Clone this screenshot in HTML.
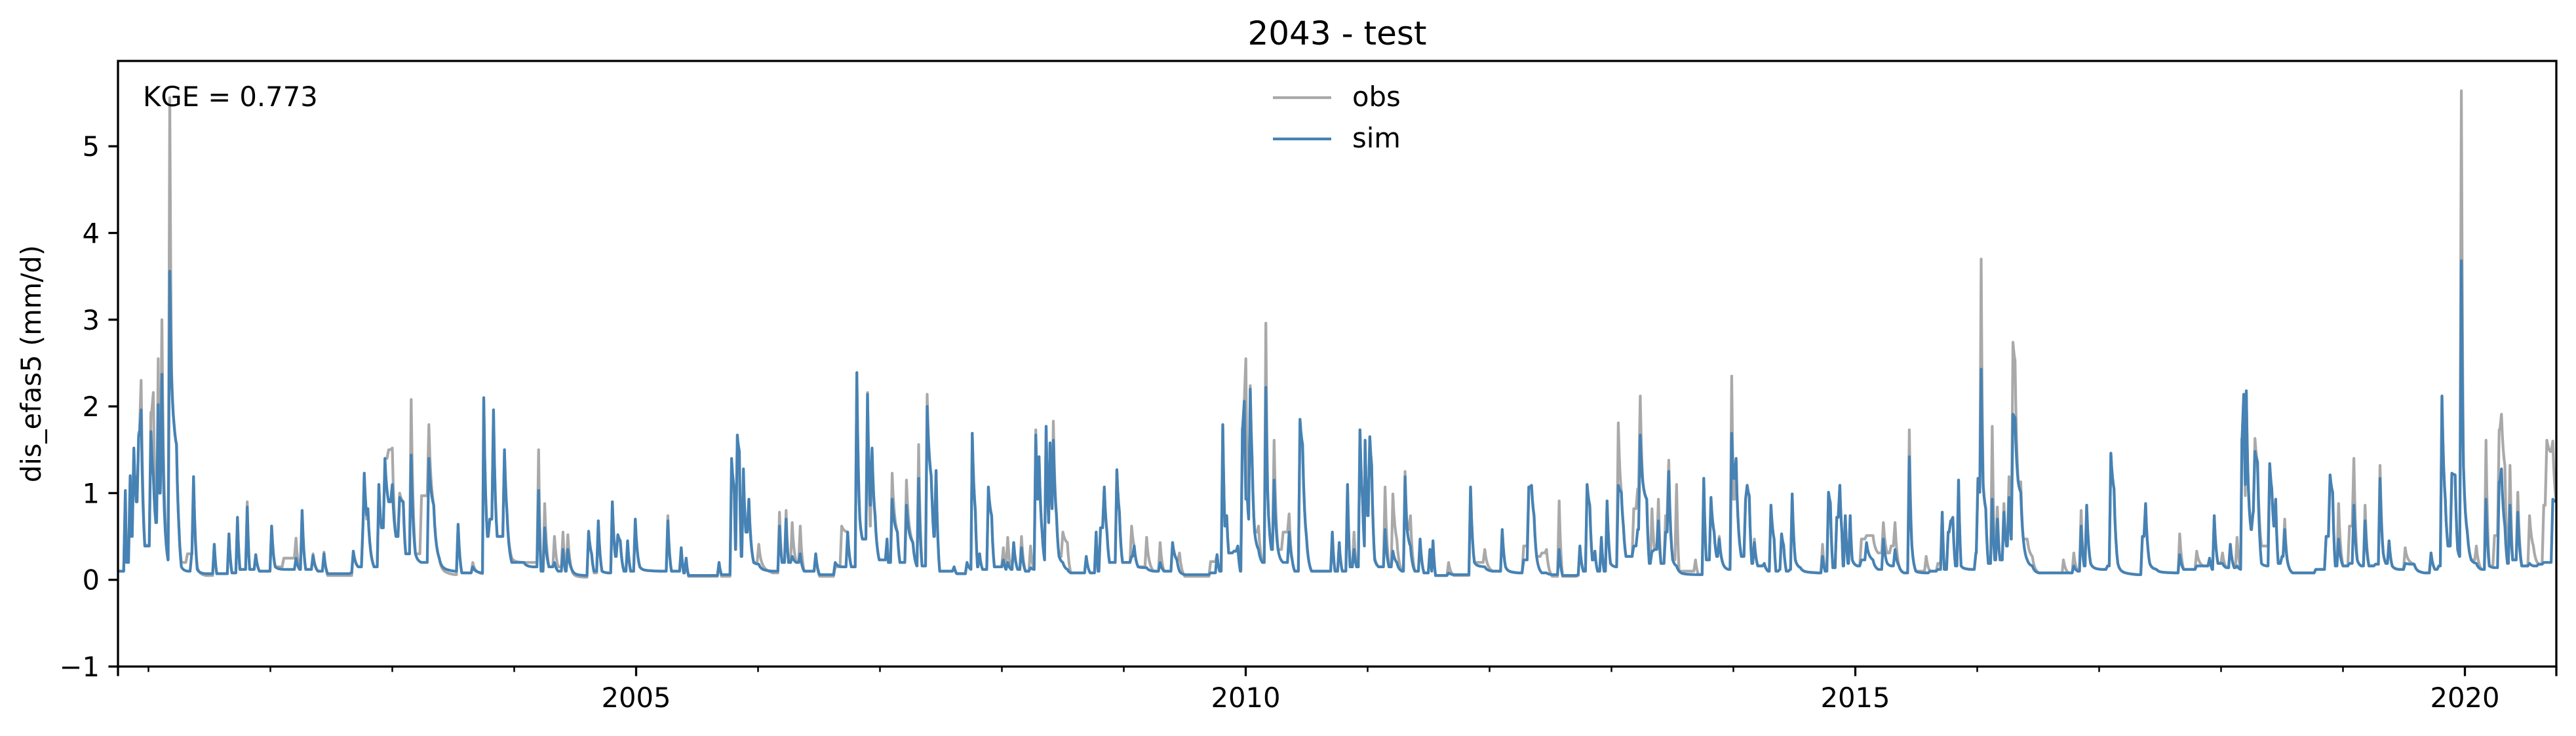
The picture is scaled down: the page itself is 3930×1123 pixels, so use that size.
<!DOCTYPE html>
<html><head><meta charset="utf-8"><style>
html,body{margin:0;padding:0;background:#fff;}
svg text{font-family:"DejaVu Sans","Liberation Sans",sans-serif;fill:#000;}
</style></head><body>
<svg id="chart" width="3930" height="1118" viewBox="0 0 3930 1118" xmlns="http://www.w3.org/2000/svg">
<rect width="3930" height="1118" fill="#fff"/>
<defs><clipPath id="plotclip"><rect x="180" y="93" width="3720" height="924"/></clipPath></defs>
<text x="2040" y="68" font-size="50" text-anchor="middle">2043 - test</text>
<text x="0" y="0" font-size="41.7" text-anchor="middle" transform="translate(62,555) rotate(-90)">dis_efas5 (mm/d)</text>
<g id="plot" clip-path="url(#plotclip)"></g>
<g id="axes"></g>
<text x="218" y="162" font-size="41.7">KGE = 0.773</text>
<g>
<line x1="1942" y1="149" x2="2031" y2="149" stroke="#a9a9a9" stroke-width="4.2"/>
<text x="2063" y="162" font-size="41.7">obs</text>
<line x1="1942" y1="212" x2="2031" y2="212" stroke="#4682b4" stroke-width="4.2"/>
<text x="2063" y="225" font-size="41.7">sim</text>
</g>
</svg>
<script>
const dates = [
2000.75,2000.77,2000.81,2000.82,2000.85,2000.86,2000.88,2000.90,2000.92,2000.94,
2000.97,2001.02,2001.04,2001.06,2001.08,2001.09,2001.11,2001.13,2001.16,2001.175,
2001.19,2001.21,2001.23,2001.25,2001.27,2001.32,2001.355,2001.37,2001.40,2001.47,
2001.54,2001.56,2001.66,2001.685,2001.73,2001.75,2001.81,2001.83,2001.88,2001.91,
2002.01,2002.04,2002.11,2002.21,2002.24,2002.26,2002.29,2002.35,2002.39,2002.44,
2002.47,2002.66,2002.68,2002.72,2002.76,2002.77,2002.79,2002.80,2002.85,2002.89,
2002.91,2002.94,2002.97,2003.00,2003.03,2003.06,2003.09,2003.11,2003.155,2003.19,
2003.24,2003.30,2003.34,2003.385,2003.51,2003.54,2003.57,2003.66,2003.74,2003.75,
2003.78,2003.80,2003.83,2003.86,2003.92,2003.94,2003.98,
2004.08,2004.15,2004.20,2004.22,2004.25,2004.285,2004.33,2004.36,2004.40,2004.42,
2004.44,2004.48,2004.58,2004.61,2004.635,2004.655,2004.69,2004.72,2004.77,2004.805,
2004.83,2004.85,2004.87,2004.90,2004.93,2004.955,2004.993,2005.03,2005.19,2005.26,
2005.29,2005.37,2005.39,2005.41,2005.43,2005.68,2005.70,2005.77,2005.783,2005.805,
2005.815,2005.83,2005.847,2005.862,2005.88,2005.90,2005.925,2005.964,2006.006,2006.12,
2006.176,2006.197,2006.23,2006.25,2006.28,2006.314,2006.346,2006.378,2006.473,2006.505,
2006.633,2006.686,2006.735,2006.765,2006.81,2006.835,2006.856,2006.898,2006.92,2006.935,
2006.96,2006.994,2007.058,2007.069,2007.10,2007.143,2007.164,2007.217,2007.27,2007.302,
2007.317,2007.345,2007.387,
2007.42,2007.428,2007.442,2007.46,2007.49,2007.608,2007.63,2007.714,2007.746,2007.757,
2007.782,2007.80,2007.817,2007.842,2007.889,2007.916,2007.938,2008.012,2008.033,2008.048,
2008.076,2008.097,2008.129,2008.161,2008.193,2008.235,2008.263,2008.278,2008.293,2008.305,
2008.33,2008.35,2008.363,2008.384,2008.395,2008.412,2008.422,2008.448,2008.469,2008.5,
2008.537,2008.565,2008.692,2008.724,2008.773,2008.788,2008.809,2008.84,2008.862,2008.883,
2008.943,2008.964,2008.99,2009.064,2009.085,2009.117,2009.187,2009.244,2009.298,2009.33,
2009.4,2009.436,2009.457,2009.5,2009.712,2009.765,2009.786,2009.812,2009.829,2009.844,
2009.86,2009.903,2009.935,2009.956,2009.973,2009.988,2010.001,2010.014,2010.024,2010.037,
2010.052,2010.073,2010.105,2010.137,2010.165,2010.18,2010.211,2010.233,2010.265,2010.307,
2010.356,2010.381,2010.402,2010.445,2010.466,2010.498,2010.54,2010.71,2010.732,
2010.767,2010.792,2010.835,2010.856,2010.888,2010.909,2010.937,2010.958,2010.973,2010.979,
2010.999,2011.018,2011.033,2011.058,2011.09,2011.143,2011.175,2011.207,2011.239,2011.281,
2011.307,2011.324,2011.351,2011.387,2011.43,2011.462,2011.511,2011.526,2011.536,2011.557,
2011.664,2011.706,2011.812,2011.844,2011.876,2011.961,2012.025,2012.104,2012.131,2012.237,
2012.28,2012.322,2012.344,2012.365,2012.386,2012.429,2012.467,2012.514,2012.571,2012.599,
2012.726,2012.741,2012.769,2012.8,2012.822,2012.843,2012.864,2012.886,2012.917,2012.939,
2012.964,2012.992,2013.034,2013.056,2013.081,2013.098,2013.119,2013.183,2013.215,2013.236,
2013.257,2013.289,2013.31,2013.332,2013.353,2013.385,2013.406,2013.444,2013.47,2013.502,
2013.534,2013.555,2013.689,2013.714,2013.757,2013.778,2013.816,2013.842,2013.863,2013.884,
2013.916,2013.959,2013.986,2014.001,2014.022,2014.065,
2014.1,2014.113,2014.13,2014.151,2014.172,2014.2,2014.253,2014.285,2014.308,2014.334,
2014.349,2014.38,2014.395,2014.412,2014.434,2014.465,2014.482,2014.508,2014.55,2014.699,
2014.731,2014.752,2014.78,2014.795,2014.816,2014.848,2014.873,2014.89,2014.9,2014.918,
2014.939,2014.958,2014.975,2015.018,2015.05,2015.092,2015.145,2015.188,2015.23,2015.262,
2015.294,2015.326,2015.358,2015.4,2015.443,2015.464,2015.496,2015.581,2015.613,2015.677,
2015.713,2015.73,2015.762,2015.783,2015.8,2015.821,2015.847,2015.868,2015.953,2015.989,
2016.006,2016.021,2016.032,2016.049,2016.07,2016.091,2016.123,2016.144,2016.165,2016.187,
2016.219,2016.24,2016.261,2016.278,2016.293,2016.31,2016.336,2016.357,2016.378,2016.41,
2016.452,2016.505,2016.697,2016.707,2016.75,2016.792,2016.824,2016.852,2016.877,2016.898,
2016.93,2017.016,2017.069,2017.096,2017.122,2017.153,2017.313,2017.355,2017.381,2017.415,
2017.47,2017.63,2017.661,2017.693,2017.8,2017.853,2017.906,2017.927,2017.944,2017.974,
2018.012,2018.044,2018.076,2018.108,2018.131,2018.161,2018.171,2018.186,2018.199,2018.207,
2018.224,2018.246,2018.263,2018.278,2018.299,2018.331,2018.373,2018.399,2018.416,2018.433,
2018.448,2018.469,2018.5,2018.522,2018.543,2018.586,2018.777,2018.862,2018.894,2018.915,
2018.937,2018.964,2019.0,2019.053,2019.089,2019.117,2019.149,2019.181,2019.213,2019.266,
2019.304,2019.33,2019.351,2019.378,2019.404,2019.457,2019.51,2019.584,2019.669,2019.722,
2019.754,2019.786,2019.812,2019.839,2019.861,2019.893,2019.92,2019.941,2019.956,2019.971,
2019.988,2020.02,2020.052,2020.094,2020.137,2020.173,2020.2,2020.243,2020.281,2020.3,
2020.328,2020.349,2020.37,2020.392,2020.434,2020.466,2020.53,2020.562,2020.604,2020.647,
2020.672,2020.7,2020.721,2020.749
];
const obsValues = [
.1,.1,1.0,.3,1.2,.5,1.5,.9,1.7,2.3,
.4,1.93,2.16,.66,2.55,1.0,3.0,1.0,.23,5.56,
2.4,1.79,1.56,.6,.2,.3,.3,1.19,.15,.05,
.41,.07,.53,.08,.72,.12,.9,.12,.29,.1,
.62,.15,.25,.48,.12,.8,.12,.3,.1,.32,
.05,.05,.33,.15,.66,1.23,.7,.82,.15,1.1,
.6,1.4,1.5,1.52,.5,1.0,.9,.3,2.08,.3,
.97,1.79,.86,.25,.06,.64,.08,.2,.07,2.1,
.5,.7,1.96,.5,1.5,.8,.25,
.2,.2,1.5,.12,.88,.15,.5,.15,.55,.12,
.52,.08,.03,.56,.3,.08,.68,.1,.08,.9,
.27,.52,.45,.1,.45,.1,.7,.15,.1,.74,
.1,.37,.08,.25,.04,.2,.04,.04,1.3,1.0,
.35,1.67,1.33,.27,1.2,.55,.93,.2,.41,.08,
.78,.2,.8,.2,.66,.2,.62,.1,.3,.04,
.15,.62,.55,.15,2.39,.7,.47,2.16,.62,1.5,
.74,.23,.47,.2,1.23,.55,.2,1.15,.43,.16,
1.56,.16,2.14,
1.2,.9,.5,1.26,.1,.15,.07,.2,.12,1.69,
.8,.15,.3,.12,1.07,.74,.15,.37,.15,.49,
.12,.43,.12,.5,.1,.39,.12,1.73,.93,1.42,
.55,.23,1.77,.66,1.58,.82,1.83,.74,.27,.55,
.43,.08,.27,.08,.55,.1,.6,1.07,.55,.2,
1.27,.78,.2,.62,.39,.15,.49,.1,.43,.1,
.43,.23,.31,.04,.21,.29,.1,1.79,.62,.74,
.31,.33,.39,.1,1.75,2.06,2.55,.93,.7,2.24,
1.4,.55,.62,.2,2.96,1.01,.35,1.61,.35,.55,
.76,.23,.1,1.85,1.56,.5,.1,.55,.1,
.43,.1,1.1,.15,.55,.15,1.73,.93,.39,1.61,
.74,1.65,1.32,.25,.15,1.07,.15,.99,.47,.1,
1.25,.58,.74,.1,.47,.08,.35,.1,.45,.05,
.2,.05,.05,1.07,.2,.35,.1,.58,.15,.08,
.39,1.07,1.09,.74,.27,.31,.35,.04,.91,.04,
.05,.39,.1,1.1,.86,.23,.33,.1,.49,.1,
.91,.19,.15,1.81,1.01,.62,.27,.82,1.05,2.12,
1.13,.93,.19,.82,.35,.93,.19,.74,1.38,.23,
1.1,.1,.23,.06,1.17,.23,.95,.55,.27,.5,
.18,.12,2.35,.93,1.4,.27,
.93,1.09,.97,.19,.47,.16,.19,.1,.86,.47,
.1,.12,.53,.4,.1,.12,.99,.23,.14,.08,
.41,.1,1.01,.89,.14,.72,1.09,.55,.16,.74,
.19,.74,.23,.16,.47,.51,.51,.31,.66,.31,
.39,.66,.16,.08,1.73,.39,.1,.27,.1,.19,
.78,.12,.55,.68,.72,.16,1.15,.16,.12,.31,
1.17,1.01,3.7,1.09,.82,.19,1.77,.23,.84,.23,
.88,.39,1.19,.47,2.74,2.53,1.13,1.13,.47,.47,
.27,.08,.08,.23,.08,.31,.1,.8,.16,.86,
.19,.12,.16,1.46,1.05,.19,.06,.5,.88,.19,
.12,.08,.53,.12,.33,.16,.25,.12,.74,.19,
.31,.14,.41,.14,.49,.12,1.63,2.14,.97,2.18,
1.05,.58,.78,1.63,1.36,.39,.39,1.34,1.05,.62,
.93,.19,.27,.7,.23,.08,.12,.5,1.21,1.01,
.16,.88,.16,.62,1.4,.23,.16,.86,.16,.18,
1.32,.31,.19,.45,.16,.12,.37,.18,.08,.31,
.12,.16,2.12,.93,.39,1.23,1.21,.35,.27,5.64,
1.32,.55,.23,.39,.12,1.61,.16,.51,1.73,1.91,
1.32,.19,1.32,.23,1.01,.16,.74,.39,.18,.86,
1.61,1.48,1.6,.9
];
const simValues = [
.1,.1,1.03,.2,1.2,.5,1.52,.9,1.67,1.96,
.39,1.71,1.2,.66,2.02,1.0,2.37,.8,.23,3.56,
2.3,1.79,1.56,.6,.15,.1,.3,1.19,.12,.07,
.41,.07,.53,.08,.72,.12,.84,.12,.29,.1,
.62,.15,.12,.25,.12,.8,.12,.28,.1,.3,
.07,.08,.33,.15,.66,1.23,.75,.82,.15,1.1,
.6,1.4,.9,1.1,.5,.95,.9,.3,1.44,.3,
.2,1.4,.86,.25,.1,.64,.08,.15,.08,2.1,
.5,.7,1.96,.5,1.5,.8,.2,
.2,.15,1.03,.1,.6,.15,.2,.1,.35,.1,
.35,.1,.05,.56,.3,.1,.68,.1,.08,.9,
.27,.52,.45,.1,.45,.1,.7,.15,.1,.68,
.1,.37,.08,.25,.05,.2,.06,.06,1.4,1.05,
.35,1.67,1.48,.27,1.28,.55,.93,.2,.18,.1,
.62,.2,.7,.2,.27,.2,.3,.1,.3,.06,
.2,.15,.55,.15,2.39,.7,.47,2.14,.86,1.52,
.74,.23,.47,.2,.93,.55,.2,.86,.43,.16,
1.17,.16,2.0,
1.2,.9,.5,1.26,.1,.15,.07,.2,.12,1.69,
.8,.15,.3,.12,1.07,.74,.15,.23,.12,.2,
.12,.43,.12,.37,.1,.14,.12,1.67,.93,1.42,
.55,.23,1.77,.66,1.58,.82,1.61,.74,.27,.2,
.12,.08,.27,.08,.55,.1,.6,1.07,.55,.2,
1.27,.78,.2,.27,.39,.15,.14,.1,.2,.1,
.43,.23,.1,.06,.08,.29,.1,1.79,.62,.74,
.31,.33,.39,.1,1.75,2.06,.93,.93,.7,2.2,
1.4,.55,.35,.2,2.22,1.01,.35,1.15,.35,.2,
.55,.23,.1,1.85,1.56,.5,.1,.55,.1,
.43,.1,1.1,.15,.35,.15,1.73,.93,.39,1.61,
.74,1.65,1.32,.23,.15,.58,.15,.33,.2,.1,
1.19,.58,.39,.1,.47,.08,.35,.1,.45,.05,
.08,.06,.06,1.07,.2,.15,.1,.58,.15,.08,
.23,1.07,1.09,.74,.27,.08,.08,.06,.35,.05,
.06,.39,.1,1.1,.86,.23,.33,.1,.49,.1,
.91,.19,.15,1.09,1.01,.62,.27,.39,.58,1.67,
1.13,.93,.19,.33,.35,.68,.19,.55,1.25,.23,
.16,.1,.06,.06,1.17,.23,.95,.55,.27,.47,
.18,.12,1.69,1.17,1.4,.27,
.93,1.09,.97,.19,.43,.16,.19,.1,.86,.47,
.1,.12,.53,.4,.1,.12,.99,.23,.14,.08,
.27,.1,1.01,.89,.14,.72,1.09,.55,.16,.74,
.19,.74,.23,.16,.23,.43,.23,.12,.47,.19,
.16,.35,.16,.08,1.42,.39,.1,.08,.1,.12,
.78,.12,.55,.68,.72,.16,1.15,.16,.12,.31,
1.17,1.01,2.43,1.09,.82,.19,.93,.23,.7,.23,
.78,.39,.95,.47,1.91,1.87,1.13,1.01,.47,.23,
.16,.08,.08,.08,.08,.16,.1,.62,.16,.86,
.19,.12,.16,1.46,1.05,.19,.06,.5,.88,.19,
.12,.08,.29,.12,.16,.16,.25,.12,.74,.19,
.19,.14,.41,.14,.16,.12,1.63,2.14,1.1,2.18,
1.05,.58,.78,1.48,1.36,.19,.16,1.34,1.05,.62,
.93,.19,.27,.58,.23,.08,.12,.5,1.21,1.01,
.16,.47,.16,.19,.86,.23,.16,.68,.16,.18,
1.17,.31,.19,.45,.16,.12,.19,.18,.08,.31,
.12,.16,2.12,.93,.39,1.23,1.21,.35,.27,3.68,
1.32,.55,.23,.19,.12,.93,.16,.14,1.13,1.28,
.62,.19,.86,.23,.78,.16,.19,.16,.18,.2,
.2,.2,.93,.9
];
const yTicks = [-1,0,1,2,3,4,5];
const yTickLabels = ["\u22121","0","1","2","3","4","5"];
const xMajorTicks = [2005,2010,2015,2020];
const xMajorLabels = ["2005","2010","2015","2020"];
const xMinorYears = [2001,2002,2003,2004,2006,2007,2008,2009,2011,2012,2013,2014,2016,2017,2018,2019];

const X0 = 180, X1 = 3900, Y0 = 93, Y1 = 1017;
const T0 = 2000.75, T1 = 2020.75, V0 = -1, V1 = 5.984;
function xScale(t){ return X0 + (t - T0) / (T1 - T0) * (X1 - X0); }
function yScale(v){ return Y1 - (v - V0) / (V1 - V0) * (Y1 - Y0); }
const NS = "http://www.w3.org/2000/svg";
const plot = document.getElementById('plot');
const axes = document.getElementById('axes');

// hydrograph-style interpolation: sharp rise, fast-then-slow recession
function rec(dx){ return 0.6*Math.exp(-dx/3) + 0.4*Math.exp(-dx/18); }
function drawSeries(vals, color, name){
  const n = Math.min(dates.length, vals.length);
  let d = "M" + xScale(dates[0]).toFixed(1) + "," + yScale(vals[0]).toFixed(1);
  for (let i = 0; i < n - 1; i++) {
    const xa = xScale(dates[i]), xb = xScale(dates[i+1]);
    const va = vals[i], vb = vals[i+1];
    const L = xb - xa;
    if (vb >= va) {
      const xr = Math.max(xa, xb - 2.5);
      d += "L" + xr.toFixed(1) + "," + yScale(va).toFixed(1);
      d += "L" + xb.toFixed(1) + "," + yScale(vb).toFixed(1);
    } else {
      const fL = rec(L);
      const steps = Math.max(2, Math.ceil(L / 1.5));
      for (let s = 1; s <= steps; s++) {
        const dx = L * s / steps;
        const g = (rec(dx) - fL) / (1 - fL);
        const v = vb + (va - vb) * g;
        d += "L" + (xa + dx).toFixed(1) + "," + yScale(v).toFixed(1);
      }
    }
  }
  const p = document.createElementNS(NS, 'path');
  p.setAttribute('d', d);
  p.setAttribute('fill', 'none');
  p.setAttribute('stroke', color);
  p.setAttribute('stroke-width', '4.2');
  p.setAttribute('stroke-linejoin', 'round');
  
  
  plot.appendChild(p);
}
drawSeries(obsValues, '#a9a9a9', 'obs-line');
drawSeries(simValues, '#4682b4', 'sim-line');

function mk(tag, attrs){ const e = document.createElementNS(NS, tag); for (const k in attrs) e.setAttribute(k, attrs[k]); return e; }

const frame = mk('rect', {x:X0, y:Y0, width:X1-X0, height:Y1-Y0, fill:'none', stroke:'#000', 'stroke-width':3.3});


axes.appendChild(frame);

yTicks.forEach((v, i) => {
  const y = yScale(v);
  const t = mk('line', {x1:X0, x2:X0-14.6, y1:y, y2:y, stroke:'#000', 'stroke-width':3.3});
  
  
  axes.appendChild(t);
  const lb = mk('text', {x:X0-28, y:y+15, 'font-size':41.7, 'text-anchor':'end'});
  lb.textContent = yTickLabels[i];
  
  
  axes.appendChild(lb);
});
xMinorYears.forEach(yr => {
  const x = xScale(yr);
  const t = mk('line', {x1:x, x2:x, y1:Y1, y2:Y1+8.3, stroke:'#000', 'stroke-width':2.5});
  
  
  axes.appendChild(t);
});
xMajorTicks.forEach((yr, i) => {
  const x = xScale(yr);
  const t = mk('line', {x1:x, x2:x, y1:Y1, y2:Y1+14.6, stroke:'#000', 'stroke-width':3.3});
  
  
  axes.appendChild(t);
  const lb = mk('text', {x:x, y:1079, 'font-size':41.7, 'text-anchor':'middle'});
  lb.textContent = xMajorLabels[i];
  
  
  axes.appendChild(lb);
});
[X0, X1].forEach(x => {
  const t = mk('line', {x1:x, x2:x, y1:Y1, y2:Y1+14.6, stroke:'#000', 'stroke-width':3.3});
  
  
  axes.appendChild(t);
});
</script>
</body></html>
